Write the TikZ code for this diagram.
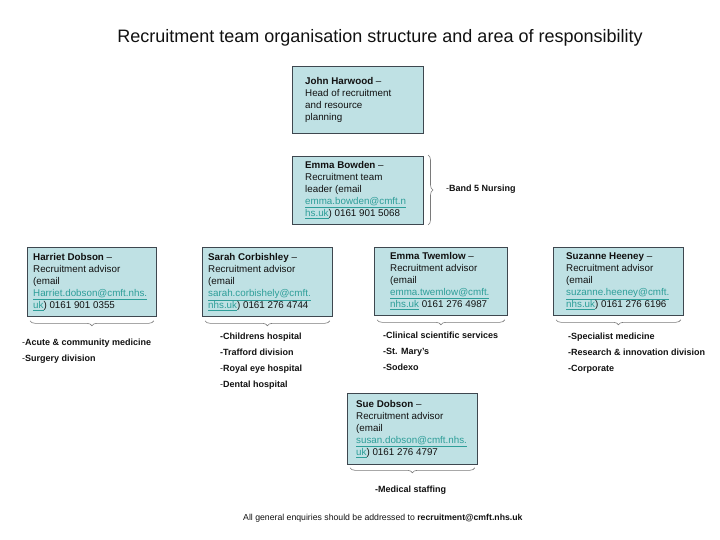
\documentclass[tikz,border=0pt]{standalone}
\usepackage{fontspec}
\setmainfont{Liberation Sans}
\usetikzlibrary{positioning, decorations.pathreplacing}
\definecolor{color_fill}{HTML}{BFE1E4}
\definecolor{color_line}{HTML}{3E474F}
\definecolor{color_text}{HTML}{111111}
\definecolor{color_link}{HTML}{2E9E99}
\definecolor{color_brace}{HTML}{7A7A7A}
\newcommand{\emaillink}[1]{\textcolor{color_link}{\underline{#1}}}
\tikzset{
  staff_box/.style={draw=color_line, line width=0.8pt, fill=color_fill, anchor=north west, inner sep=0pt},
  staff_text/.style={anchor=west, align=left, inner sep=0pt, text=color_text, font=\fontsize{9.8}{12}\selectfont},
  area_text/.style={anchor=base west, inner sep=0pt, text=color_text, font=\fontsize{9}{10}\selectfont\bfseries},
  area_brace/.style={draw=color_brace, line width=0.6pt, decorate, decoration={brace, amplitude=5pt}},
  title_text/.style={anchor=base, inner sep=0pt, text=color_text, font=\fontsize{18}{20}\selectfont},
}
\begin{document}
\begin{tikzpicture}[x=1pt, y=-1pt]
    \useasboundingbox (0,0) rectangle (720,540);
    \node[title_text] (title) at (380,43) {Recruitment team organisation structure and area of responsibility};
    % Head and team leader
    \node[staff_box, minimum width=131pt, minimum height=67pt] (john) at (292,66) {};
    \node[staff_text] (john_text) at ([xshift=13pt]john.west)
      {\textbf{John Harwood} --\\Head of recruitment\\and resource\\planning};
    \node[staff_box, minimum width=131pt, minimum height=68pt] (bowden) at (292,156) {};
    \node[staff_text] (bowden_text) at ([xshift=13pt]bowden.west)
      {\textbf{Emma Bowden} --\\Recruitment team\\leader (email\\\emaillink{emma.bowden@cmft.n}\\\emaillink{hs.uk}) 0161 901 5068};
    \draw[area_brace] (428,155) -- (428,225);
    \node[area_text] (bowden_area) at (446,192) {\textmd{-}Band 5 Nursing};
    % Recruitment advisors
    \node[staff_box, minimum width=129pt, minimum height=69pt] (harriet) at (27,247) {};
    \node[staff_text] (harriet_text) at ([xshift=6pt]harriet.west)
      {\textbf{Harriet Dobson} --\\Recruitment advisor\\(email\\\emaillink{Harriet.dobson@cmft.nhs.}\\\emaillink{uk}) 0161 901 0355};
    \node[staff_box, minimum width=130pt, minimum height=69pt] (sarah) at (202,247) {};
    \node[staff_text] (sarah_text) at ([xshift=6pt]sarah.west)
      {\textbf{Sarah Corbishley} --\\Recruitment advisor\\(email\\\emaillink{sarah.corbishely@cmft.}\\\emaillink{nhs.uk}) 0161 276 4744};
    \node[staff_box, minimum width=133pt, minimum height=68pt] (twemlow) at (374,247) {};
    \node[staff_text] (twemlow_text) at ([xshift=16pt]twemlow.west)
      {\textbf{Emma Twemlow} --\\Recruitment advisor\\(email\\\emaillink{emma.twemlow@cmft.}\\\emaillink{nhs.uk} 0161 276 4987};
    \node[staff_box, minimum width=130pt, minimum height=68pt] (suzanne) at (553,247) {};
    \node[staff_text] (suzanne_text) at ([xshift=13pt]suzanne.west)
      {\textbf{Suzanne Heeney} --\\Recruitment advisor\\(email\\\emaillink{suzanne.heeney@cmft.}\\\emaillink{nhs.uk}) 0161 276 6196};
    \node[staff_box, minimum width=130pt, minimum height=71pt] (sue) at (347,393) {};
    \node[staff_text] (sue_text) at ([xshift=9pt]sue.west)
      {\textbf{Sue Dobson} --\\Recruitment advisor\\(email\\\emaillink{susan.dobson@cmft.nhs.}\\\emaillink{uk}) 0161 276 4797};
    % Braces under the advisors
    \draw[area_brace] ([shift={(-3pt,-4pt)}]harriet.south east) -- ([shift={(3pt,-4pt)}]harriet.south west);
    \draw[area_brace] ([shift={(-3pt,-4pt)}]sarah.south east) -- ([shift={(3pt,-4pt)}]sarah.south west);
    \draw[area_brace] ([shift={(-3pt,-4pt)}]twemlow.south east) -- ([shift={(3pt,-4pt)}]twemlow.south west);
    \draw[area_brace] ([shift={(-3pt,-4pt)}]suzanne.south east) -- ([shift={(3pt,-4pt)}]suzanne.south west);
    \draw[area_brace] ([shift={(-3pt,-3pt)}]sue.south east) -- ([shift={(3pt,-3pt)}]sue.south west);
    % Areas of responsibility
    \node[area_text] (harriet_a1) at (22,345) {\textmd{-}Acute \& community medicine};
    \node[area_text] (harriet_a2) at (22,361) {\textmd{-}Surgery division};
    \node[area_text] (sarah_a1) at (220,339) {-Childrens hospital};
    \node[area_text] (sarah_a2) at (220,355) {-Trafford division};
    \node[area_text] (sarah_a3) at (220,371) {\textmd{-}Royal eye hospital};
    \node[area_text] (sarah_a4) at (220,387) {\textmd{-}Dental hospital};
    \node[area_text] (twemlow_a1) at (383,338) {-Clinical scientific services};
    \node[area_text] (twemlow_a2) at (383,354) {-St. Mary's};
    \node[area_text] (twemlow_a3) at (383,370) {-Sodexo};
    \node[area_text] (suzanne_a1) at (568,339) {-Specialist medicine};
    \node[area_text] (suzanne_a2) at (568,355) {-Research \& innovation division};
    \node[area_text] (suzanne_a3) at (568,371) {-Corporate};
    \node[area_text] (sue_a1) at (375,492) {-Medical staffing};
    \node[area_text, font=\fontsize{8.7}{10}\selectfont] (enquiries) at (243,520)
      {All general enquiries should be addressed to \textbf{recruitment@cmft.nhs.uk}};
\end{tikzpicture}
\end{document}
